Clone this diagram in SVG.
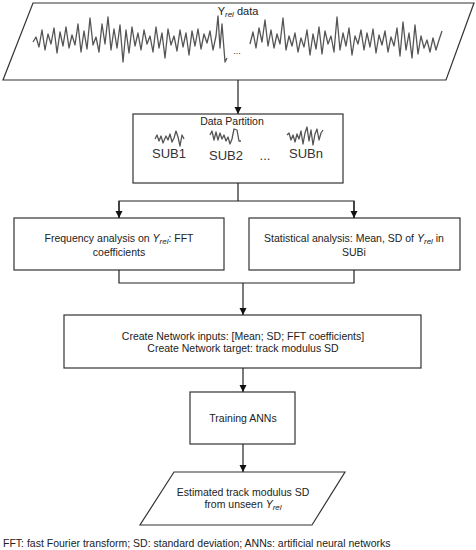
<svg xmlns="http://www.w3.org/2000/svg" width="476" height="550" viewBox="0 0 476 550">
<style>
.box{fill:#fff;stroke:#333;stroke-width:1.2}
.t{font-family:"Liberation Sans",Arial,sans-serif;font-size:10.5px;fill:#222;text-anchor:middle}
.sub{font-family:"Liberation Sans",Arial,sans-serif;font-size:13px;fill:#333;text-anchor:middle}
.w{fill:none;stroke:#555;stroke-width:1.3;stroke-linejoin:round}
.c{fill:none;stroke:#222;stroke-width:1.2}
</style>
<defs>
<marker id="ah" markerWidth="8" markerHeight="8" refX="7" refY="4" orient="auto" markerUnits="userSpaceOnUse">
<path d="M0,0.5 L7,4 L0,7.5 Z" fill="#111"/>
</marker>
</defs>
<rect width="476" height="550" fill="#fff"/>
<g id="input">
<polygon class="box" points="33,3 474,3 446,80 3,80"/>
<text class="t" x="238" y="15" style="font-size:11px">Y<tspan font-style="italic" font-size="8" dy="2">rel</tspan><tspan dy="-2">  data</tspan></text>
<polyline class="w" points="33,42 36,37 39,47 42,30 45,50 48,34 51,44 54,28 57,53 60,32 63,46 66,27 69,48 72,35 75,45 78,24 81,52 84,31 87,49 90,18 93,45 96,37 99,52 102,24 105,44 108,17 111,50 114,29 117,48 120,25 123,62 126,30 129,53 132,27 135,46 138,33 141,50 144,30 147,44 150,36 153,52 156,27 159,48 162,33 165,58 168,29 171,45 174,36 177,51 180,30 183,47 186,33 189,55 192,31 195,46 198,29 201,49 204,34 207,43 210,31 213,50 216,36 218,16 220,48 222,24 225,62 227,58"/>
<text x="237" y="54" style="font-family:'Liberation Sans',sans-serif;font-size:9px;fill:#333;text-anchor:middle">...</text>
<polyline class="w" points="250,44 253,32 256,48 259,28 262,42 265,20 268,46 271,30 274,48 277,34 280,44 283,18 286,50 289,36 292,46 295,33 298,52 301,38 304,47 307,30 310,55 313,34 316,49 319,27 322,54 325,31 328,44 331,36 334,52 337,17 340,50 343,33 346,46 349,28 352,55 355,36 358,44 361,30 364,50 367,33 370,47 373,29 376,53 379,35 382,45 385,31 388,52 391,37 394,46 397,28 400,56 403,22 406,50 409,33 412,58 415,25 418,54 421,36 424,48 427,40 430,52 433,38 436,50 439,40 442,31"/>
</g>
<g id="partition">
<rect class="box" x="133" y="114" width="210" height="69"/>
<text class="t" x="232" y="125">Data Partition</text>
<polyline class="w" points="155,139 157,135 159,141 161,136 163,143 166,136 168,140 170,134 172,142 174,138 176,131 178,137 180,146 182,135 184,139"/>
<polyline class="w" points="210,135 212,131 214,140 216,132 218,140 220,133 222,139 224,135 226,141 228,137 230,144 232,139 234,129 237,130 239,141 241,141"/>
<polyline class="w" points="287,135 289,133 291,140 293,135 295,142 297,134 299,139 301,131 303,144 305,133 307,127 309,141 311,130 313,145 315,134 317,129 319,140 321,133 323,130"/>
<text class="sub" x="169" y="158">SUB1</text>
<text class="sub" x="226" y="160">SUB2</text>
<text class="sub" x="265" y="160">...</text>
<text class="sub" x="306" y="158">SUBn</text>
</g>
<g id="freq">
<rect class="box" x="14" y="218" width="210" height="52"/>
<text class="t" x="119" y="242">Frequency analysis on <tspan font-style="italic">Y</tspan><tspan font-style="italic" font-size="8" dy="2">rel</tspan><tspan dy="-2">: FFT</tspan></text>
<text class="t" x="119" y="256">coefficients</text>
</g>
<g id="stat">
<rect class="box" x="249" y="218" width="211" height="52"/>
<text class="t" x="354" y="242">Statistical analysis: Mean, SD of <tspan font-style="italic">Y</tspan><tspan font-style="italic" font-size="8" dy="2">rel</tspan><tspan dy="-2"> in</tspan></text>
<text class="t" x="354" y="256">SUBi</text>
</g>
<g id="network">
<rect class="box" x="64" y="315" width="357" height="53"/>
<text class="t" x="243" y="340">Create Network inputs: [Mean; SD; FFT coefficients]</text>
<text class="t" x="243" y="352">Create Network target: track modulus SD</text>
</g>
<g id="training">
<rect class="box" x="190" y="392" width="105" height="52"/>
<text class="t" x="243" y="422">Training ANNs</text>
</g>
<g id="output">
<polygon class="box" points="174,472 345,472 312,525 140,525"/>
<text class="t" x="243" y="496">Estimated track modulus SD</text>
<text class="t" x="243" y="508">from unseen <tspan font-style="italic">Y</tspan><tspan font-style="italic" font-size="8" dy="2">rel</tspan></text>
</g>
<g id="connectors">
<line class="c" x1="238" y1="80" x2="238" y2="114" marker-end="url(#ah)"/>
<line class="c" x1="238" y1="183" x2="238" y2="201"/>
<polyline class="c" points="119,218 119,201 354,201 354,218"/>
<line class="c" x1="119" y1="201" x2="119" y2="218" marker-end="url(#ah)"/>
<line class="c" x1="354" y1="201" x2="354" y2="218" marker-end="url(#ah)"/>
<polyline class="c" points="119,270 119,283 354,283 354,270"/>
<line class="c" x1="243" y1="283" x2="243" y2="315" marker-end="url(#ah)"/>
<line class="c" x1="243" y1="368" x2="243" y2="392" marker-end="url(#ah)"/>
<line class="c" x1="243" y1="444" x2="243" y2="472" marker-end="url(#ah)"/>
</g>
<text x="3" y="547" style="font-family:'Liberation Sans',Arial,sans-serif;font-size:10.5px;fill:#222">FFT: fast Fourier transform; SD: standard deviation; ANNs: artificial neural networks</text>
</svg>
